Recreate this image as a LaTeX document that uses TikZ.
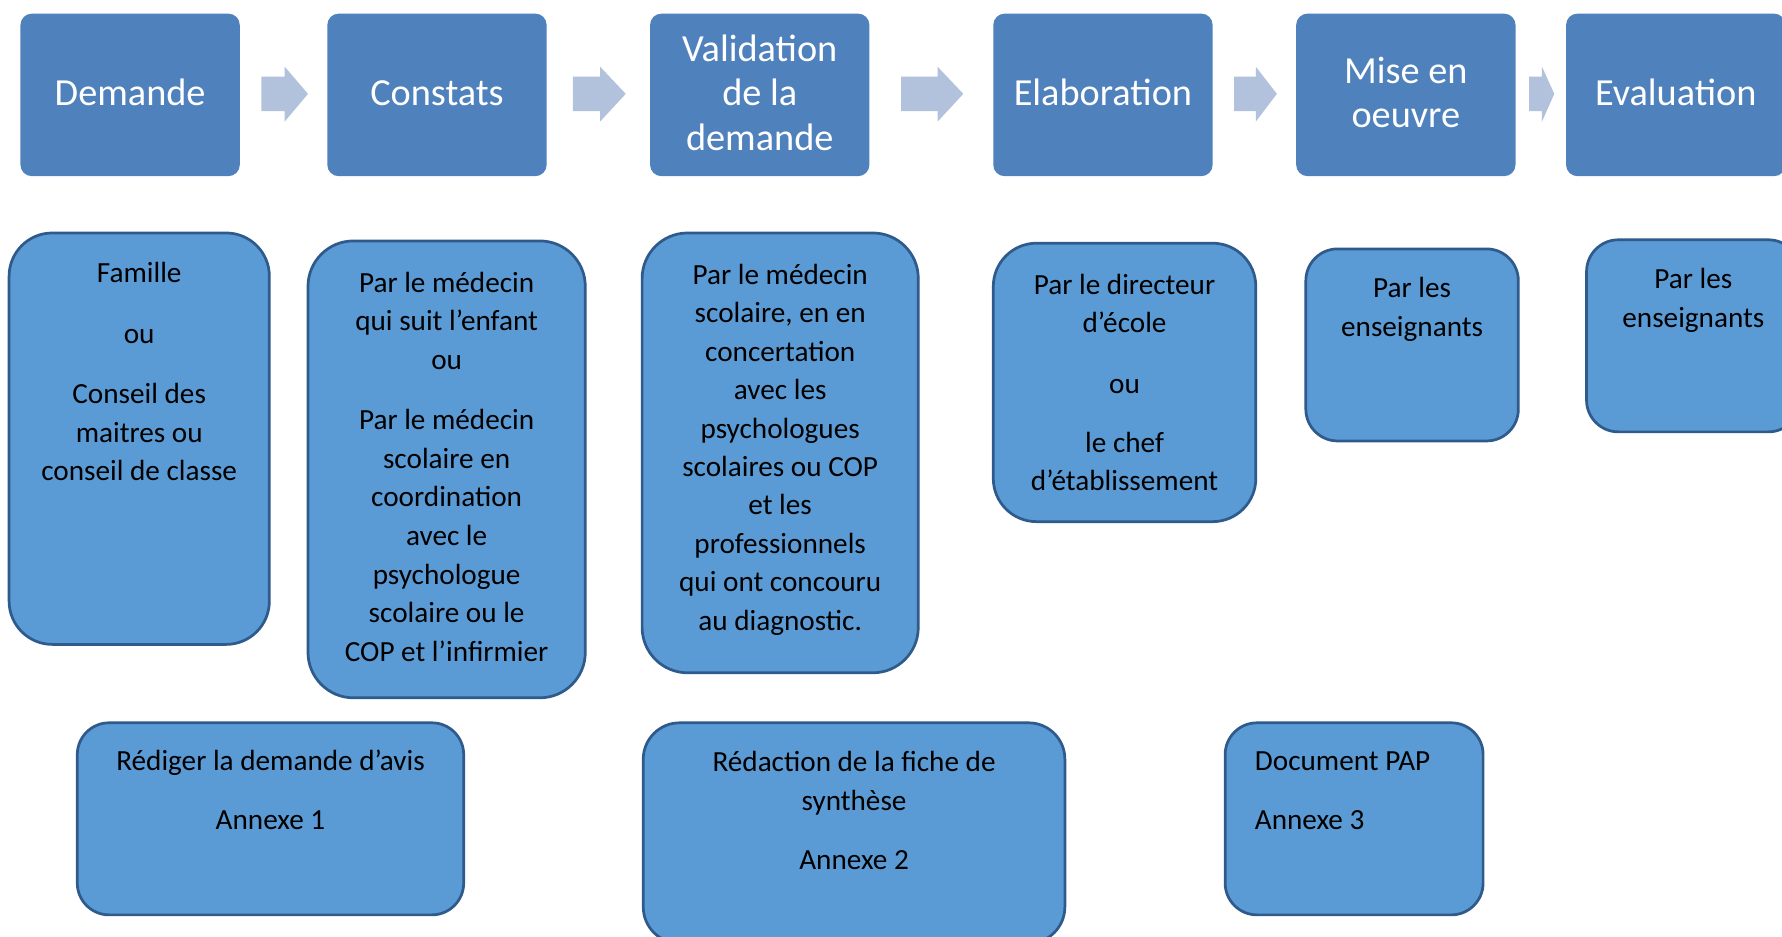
\documentclass[tikz,border=0pt]{standalone}
\usepackage{fontspec}
\setmainfont{Carlito}
\definecolor{topblue}{HTML}{4F81BD}
\definecolor{lowblue}{HTML}{5B9BD5}
\definecolor{edgeblue}{HTML}{2F5A8C}
\definecolor{arrowfill}{HTML}{B2C2DD}
\tikzset{
  topbox/.style={rectangle, rounded corners=10pt, fill=topblue, draw=none,
    minimum width=193pt, minimum height=143pt, inner sep=0pt, text=white,
    align=center, text depth=4pt, font=\fontsize{33.7}{39}\selectfont},
  lowbox/.style={rectangle, draw=edgeblue, line width=2.4pt, fill=lowblue, inner sep=0pt},
  boxtext/.style={anchor=north, inner sep=0pt, align=center, text=black,
    font=\fontsize{25.7}{34}\selectfont},
  arrowshape/.style={fill=arrowfill, draw=none}
}
\newcommand\chevarrow[3]{\fill[arrowshape] (#1,67.5) -- (#2,67.5) -- (#2,58.7) -- (#3,82.6) -- (#2,107) -- (#2,97.7) -- (#1,97.7) -- cycle;}
\begin{document}
\begin{tikzpicture}[x=1pt,y=-1pt]
\clip (0,0) rectangle (1568,824);
\fill[white] (0,0) rectangle (1568,824);
% top row
\node[topbox] (t1) at (114.5,83.5) {Demande};
\node[topbox] (t2) at (384.5,83.5) {Constats};
\node[topbox] (t3) at (668.5,83.5) {Validation\\de la\\demande};
\node[topbox] (t4) at (970.5,83.5) {Elaboration};
\node[topbox] (t5) at (1237,83.5) {Mise en\\oeuvre};
\node[topbox] (t6) at (1474.5,83.5) {Evaluation};
% arrows
\chevarrow{230}{250.5}{271}
\chevarrow{504}{528}{550.6}
\chevarrow{792.8}{825}{847.6}
\chevarrow{1086}{1105}{1123.5}
\chevarrow{1345.4}{1356.8}{1367.6}
% middle row
\node[lowbox, rounded corners=38pt, minimum width=229pt, minimum height=362pt] (A) at (122.5,386) {};
\node[lowbox, rounded corners=40pt, minimum width=244pt, minimum height=402pt] (B) at (393,413) {};
\node[lowbox, rounded corners=40pt, minimum width=243pt, minimum height=387pt] (C) at (686.5,398.5) {};
\node[lowbox, rounded corners=38pt, minimum width=231pt, minimum height=245pt] (D) at (989.5,336.5) {};
\node[lowbox, rounded corners=28pt, minimum width=187pt, minimum height=169pt] (E) at (1242.5,303.5) {};
\node[lowbox, rounded corners=28pt, minimum width=188pt, minimum height=169pt] (F) at (1490,295.5) {};
% bottom row
\node[lowbox, rounded corners=28pt, minimum width=340pt, minimum height=169pt] (G) at (238,720.5) {};
\node[lowbox, rounded corners=32pt, minimum width=371pt, minimum height=194pt] (H) at (751.5,733) {};
\node[lowbox, rounded corners=28pt, minimum width=227pt, minimum height=169pt] (I) at (1191.5,720.5) {};
% texts
\node[boxtext] (tA) at (122.5,225) {\strut Famille\\[19pt]ou\\[19pt]Conseil des\\maitres ou\\conseil de classe};
\node[boxtext] (tB) at (393,233) {\strut Par le médecin\\qui suit l’enfant\\ou\\[19pt]Par le médecin\\scolaire en\\coordination\\avec le\\psychologue\\scolaire ou le\\COP et l’infirmier};
\node[boxtext, font=\fontsize{25.7}{33.8}\selectfont] (tC) at (686.5,226.4) {\strut Par le médecin\\scolaire, en en\\concertation\\avec les\\psychologues\\scolaires ou COP\\et les\\professionnels\\qui ont concouru\\au diagnostic.};
\node[boxtext] (tD) at (989.5,235) {\strut Par le directeur\\d’école\\[19pt]ou\\[18pt]le chef\\d’établissement};
\node[boxtext] (tE) at (1242.5,238) {\strut Par les\\enseignants};
\node[boxtext] (tF) at (1490,230) {\strut Par les\\enseignants};
\node[boxtext] (tG) at (238,654) {\strut Rédiger la demande d’avis\\[18pt]Annexe 1};
\node[boxtext] (tH) at (751.5,655) {\strut Rédaction de la fiche de\\synthèse\\[18pt]Annexe 2};
\node[boxtext, anchor=north west, align=left] (tI) at (1104,654) {\strut Document PAP\\[18pt]Annexe 3};
\end{tikzpicture}
\end{document}
